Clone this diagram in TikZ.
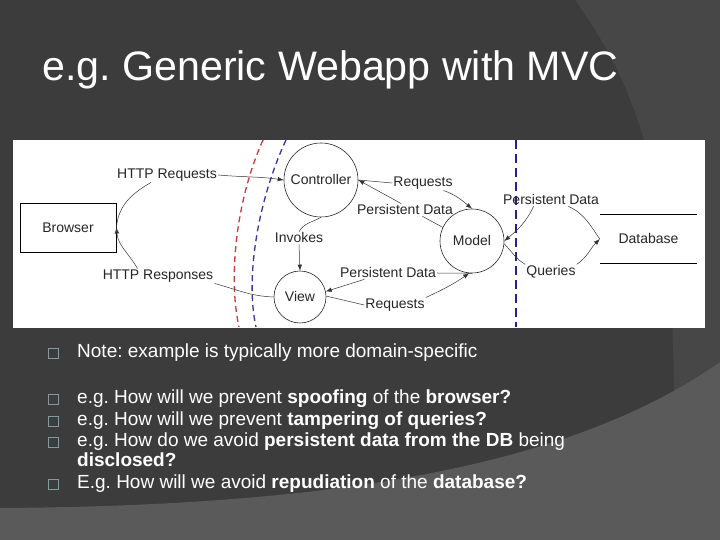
\documentclass[tikz,border=0pt]{standalone}
\usepackage{fontspec}
\setmainfont{Liberation Sans}
\usepackage{tikz}
\usetikzlibrary{arrows.meta,positioning}
\frenchspacing

\definecolor{slidebg}{HTML}{3C3C3C}
\definecolor{slidearc}{HTML}{474747}
\definecolor{slidelow}{HTML}{5A5A5A}
\definecolor{trustred}{HTML}{CC3A3A}
\definecolor{trustblue}{HTML}{3434A6}
\definecolor{boundnavy}{HTML}{22228A}
\definecolor{bulletgray}{HTML}{8499A0}

\begin{document}
\begin{tikzpicture}[
    x=1pt, y=1pt,
    block/.style={rectangle, draw=black, line width=0.8pt, minimum width=96pt, minimum height=49pt, font=\fontsize{14}{16}\selectfont, text=black!85},
    proc/.style={circle, draw=black!85, line width=0.6pt, inner sep=0pt, font=\fontsize{14}{16}\selectfont, text=black!85},
    lbl/.style={inner sep=1pt, font=\fontsize{14}{16}\selectfont, text=black!85},
    flow/.style={draw=black!80, line width=0.5pt},
    arrow/.style={flow, -{Latex[length=6pt, width=4.5pt]}},
    trust/.style={dash pattern=on 6pt off 4pt, line width=1.3pt},
    bodytext/.style={anchor=base west, inner sep=0pt, text=white, align=left, font=\fontsize{19}{20}\selectfont},
    bulletbox/.style={draw=bulletgray, line width=0.8pt, minimum width=10pt, minimum height=9.5pt, inner sep=0pt},
  ]
  % Slide background
  \useasboundingbox (0,0) rectangle (720,540);
  \fill[slidebg] (0,0) rectangle (720,540);
  \fill[slidearc] (575,540) .. controls (625,470) and (672,380) .. (674,150) -- (720,150) -- (720,540) -- cycle;
  \fill[slidelow] (0,32) .. controls (300,34) and (560,65) .. (720,178) -- (720,0) -- (0,0) -- cycle;

  % Title
  \node[anchor=base west, inner sep=0pt, text=white, font=\fontsize{41.2}{44}\selectfont] (title) at (42,459) {e.g. Generic Webapp with MVC};

  % Diagram panel
  \node[fill=white, minimum width=692pt, minimum height=188pt, inner sep=0pt, anchor=south west] (panel) at (13,212) {};
  \draw[trust, trustred] (263,400) .. controls (236,340) and (228,262) .. (239,213);
  \draw[trust, trustblue] (286,400) .. controls (258,340) and (245,262) .. (256,213);
  \draw[boundnavy, line width=1.1pt, dash pattern=on 9pt off 5pt] (516,400) -- (516,213);

  % Elements
  \node[block] (browser) at (68,312.5) {Browser};
  \node[proc, minimum size=74pt] (ctrl) at (321,360) {Controller};
  \node[proc, minimum size=52pt] (view) at (300,243) {View};
  \node[proc, minimum size=64pt] (model) at (472,299) {Model};
  \node[lbl, minimum width=97pt, minimum height=48pt] (db) at (648.5,301) {Database};
  \draw[line width=1pt] (db.north west) -- (db.north east);
  \draw[line width=1pt] (db.south west) -- (db.south east);

  % Flow labels
  \node[lbl] (lreq) at (167,365) {HTTP Requests};
  \node[lbl] (lresp) at (158,264) {HTTP Responses};
  \node[lbl] (linv) at (299,302) {Invokes};
  \node[lbl] (lcreq) at (423,357) {Requests};
  \node[lbl] (lcpd) at (405,330) {Persistent Data};
  \node[lbl] (lvpd) at (388,267) {Persistent Data};
  \node[lbl] (lvreq) at (395,235) {Requests};
  \node[lbl] (ldpd) at (551,340) {Persistent Data};
  \node[lbl] (lq) at (551,268) {Queries};

  % Browser <-> Controller / View
  \draw[flow] (browser.east) to[out=85, in=-150] (lreq.-155);
  \draw[arrow] (lreq.east) to[out=-5, in=172] (ctrl.west);
  \draw[flow] (view.west) to[out=178, in=-15] (lresp.south east);
  \draw[arrow] (lresp.160) to[out=120, in=-85] (browser.east);

  % Controller -> View
  \draw[flow] (ctrl.south) to[out=-150, in=60] (linv.north);
  \draw[arrow] (linv.south) -- (view.north);

  % Controller <-> Model
  \draw[flow] (ctrl.east) -- (lcreq.west);
  \draw[arrow] (lcreq.-20) to[out=-20, in=140] (model.north);
  \draw[flow] (model.155) -- (lcpd.-20);
  \draw[arrow] (lcpd.120) -- (ctrl.east);

  % View <-> Model
  \draw[flow] (model.south) -- (lvpd.east);
  \draw[arrow] (lvpd.-165) -- (view.12);
  \draw[flow] (view.2) -- (lvreq.west);
  \draw[arrow] (lvreq.north east) to[out=25, in=-145] (model.-95);

  % Model <-> Database
  \draw[flow] (db.west) to[out=125, in=-25] (ldpd.-20);
  \draw[arrow] (ldpd.-160) to[out=-115, in=40] (model.east);
  \draw[flow] (model.-5) to[out=-45, in=150] (lq.north west);
  \draw[arrow] (lq.north east) to[out=35, in=-135] (db.west);

  % Bullets
  \node[bodytext] (note) at (77,182) {Note: example is typically more domain-specific};
  \node[bodytext] (spoof) at (77,136) {e.g. How will we prevent \textbf{spoofing} of the \textbf{browser?}};
  \node[bodytext] (tamper) at (77,114) {e.g. How will we prevent \textbf{tampering of queries?}};
  \node[bodytext] (disclose) at (77,73) {e.g. How do we avoid \textbf{persistent data from the DB} being\\\textbf{disclosed?}};
  \node[bodytext] (repud) at (77,51) {E.g. How will we avoid \textbf{repudiation} of the \textbf{database?}};

  \node[bulletbox] (b1) at (53.5,186.5) {};
  \node[bulletbox] (b2) at (53.5,140.5) {};
  \node[bulletbox] (b3) at (53.5,118.5) {};
  \node[bulletbox] (b4) at (53.5,97.5) {};
  \node[bulletbox] (b5) at (53.5,55.5) {};
\end{tikzpicture}
\end{document}
